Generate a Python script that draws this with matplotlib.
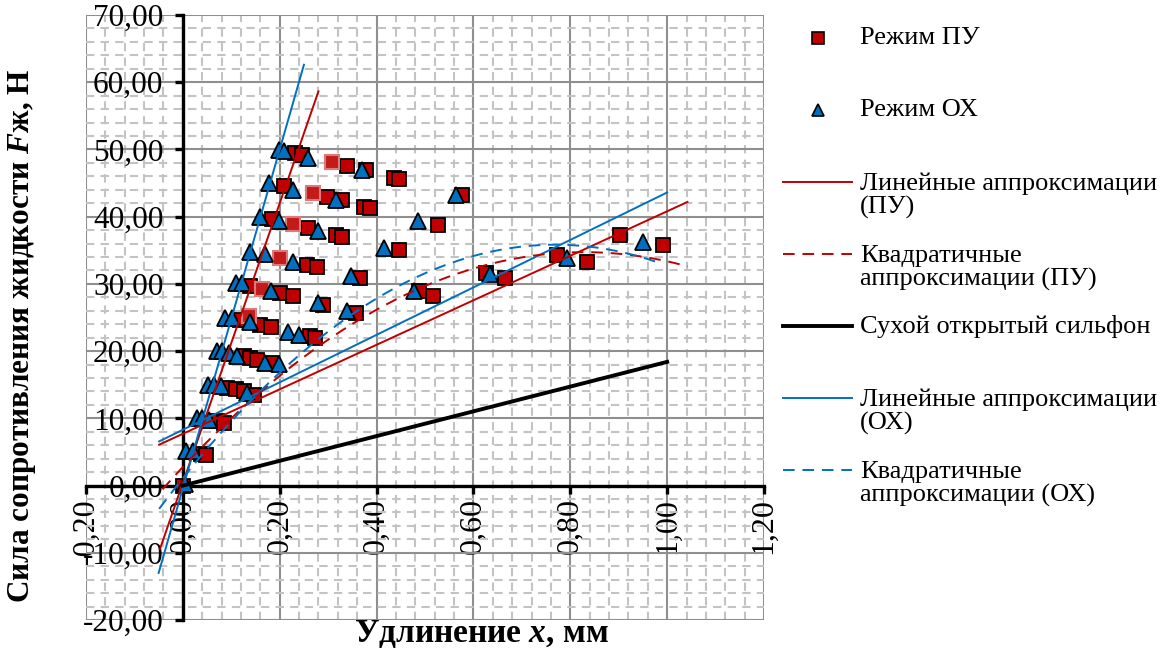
import numpy as np
import matplotlib.pyplot as plt
from matplotlib.ticker import MultipleLocator, FuncFormatter

plt.rcParams['font.family'] = ['Liberation Serif', 'DejaVu Serif']
plt.rcParams['mathtext.fontset'] = 'custom'
plt.rcParams['mathtext.it'] = 'Liberation Serif:italic:bold'
plt.rcParams['mathtext.rm'] = 'Liberation Serif:bold'

W, H = 1167, 653

# Режим ПУ (красные квадраты)
pu_x = [0.0, 0.037, 0.047, 0.071, 0.085, 0.092, 0.109, 0.126, 0.146,
        0.126, 0.139, 0.153, 0.184,
        0.119, 0.160, 0.181, 0.263, 0.273,
        0.139, 0.201, 0.228, 0.290, 0.358, 0.488, 0.516,
        0.256, 0.278, 0.365, 0.625, 0.665,
        0.184, 0.259, 0.317, 0.328, 0.447,
        0.208, 0.297, 0.328, 0.375, 0.386, 0.526,
        0.232, 0.246, 0.338, 0.379, 0.437, 0.447, 0.577,
        0.772, 0.834, 0.902, 0.991]
pu_y = [0.0, 4.7, 4.6, 9.6, 9.3, 14.5, 14.3, 14.0, 13.5,
        19.2, 19.0, 18.7, 18.2,
        24.7, 23.9, 23.6, 22.2, 21.9,
        29.7, 28.6, 28.2, 26.9, 25.7, 28.9, 28.2,
        32.8, 32.5, 30.9, 31.6, 30.9,
        39.6, 38.3, 37.3, 37.0, 35.0,
        44.5, 43.0, 42.5, 41.5, 41.3, 38.8,
        49.4, 49.2, 47.6, 46.9, 45.7, 45.6, 43.2,
        34.3, 33.2, 37.3, 35.8]

# выделенные точки ПУ (без обводки)
pu_hl_x = [0.136, 0.163, 0.201, 0.228, 0.269, 0.308]
pu_hl_y = [25.2, 29.2, 33.9, 38.9, 43.5, 48.1]

# Режим ОХ (синие треугольники)
ox_x = [0.004, 0.006, 0.020, 0.030, 0.040, 0.054,
        0.051, 0.064, 0.078, 0.133,
        0.071, 0.081, 0.095, 0.112, 0.170, 0.198,
        0.088, 0.102, 0.139, 0.218, 0.239,
        0.109, 0.122, 0.181, 0.280, 0.338, 0.478,
        0.139, 0.170, 0.228, 0.348, 0.634,
        0.160, 0.198, 0.280, 0.416,
        0.177, 0.228, 0.317, 0.485,
        0.198, 0.208, 0.259, 0.369, 0.563,
        0.793, 0.950]
ox_y = [0.3, 5.1, 5.1, 10.1, 10.1, 9.8,
        15.0, 14.9, 14.8, 13.8,
        20.0, 20.0, 19.7, 19.3, 18.3, 18.1,
        24.9, 24.9, 24.3, 22.9, 22.4,
        30.1, 30.1, 28.9, 27.1, 25.9, 28.9,
        34.7, 34.4, 33.2, 31.1, 31.4,
        39.9, 39.3, 37.8, 35.3,
        45.0, 44.0, 42.5, 39.4,
        49.9, 49.7, 48.8, 47.0, 43.2,
        33.8, 36.3]

# линейные аппроксимации: y = k*x + b на [x0, x1]
lin_pu_k = [208.0, 33.1]
lin_pu_b = [0.4, 7.7]
lin_pu_x0 = [-0.047, -0.049]
lin_pu_x1 = [0.28, 1.042]

lin_ox_k = [252.0, 35.3]
lin_ox_b = [-0.4, 8.3]
lin_ox_x0 = [-0.05, -0.049]
lin_ox_x1 = [0.25, 1.0]

# квадратичные аппроксимации: y = a + b*x + c*x^2
kv_pu = [2.76, 77.1, -46.5]
kv_pu_rng = [-0.042, 1.042]
kv_ox = [1.1, 90.3, -58.7]
kv_ox_rng = [-0.049, 0.99]

# сухой открытый сильфон
dry_x = [0.0, 1.0]
dry_y = [0.0, 18.4]

RED = '#C00000'
BLUE = '#0070C0'

fig = plt.figure(figsize=(W / 100, H / 100), dpi=100)
ax = fig.add_axes([86 / W, 1 - 620 / H, (764 - 86) / W, (620 - 15) / H])

ax.set_xlim(-0.2, 1.2)
ax.set_ylim(-20, 70)
ax.xaxis.set_major_locator(MultipleLocator(0.2))
ax.xaxis.set_minor_locator(MultipleLocator(0.04))
ax.yaxis.set_major_locator(MultipleLocator(10))
ax.yaxis.set_minor_locator(MultipleLocator(2))


def fmt(v, p):
    if abs(v) < 1e-9:
        v = 0.0
    return f"{v:.2f}".replace('.', ',')


ax.xaxis.set_major_formatter(FuncFormatter(fmt))
ax.yaxis.set_major_formatter(FuncFormatter(fmt))

ax.set_axisbelow(True)
ax.grid(which='major', color='#8F8F8F', lw=1.5)
ax.grid(which='minor', color='#C3C3C3', lw=1.5, linestyle=(0, (4, 3)))

for s in ['top', 'right']:
    ax.spines[s].set_visible(False)
ax.spines['left'].set_position(('data', 0))
ax.spines['bottom'].set_position(('data', 0))
for s in ['left', 'bottom']:
    ax.spines[s].set_linewidth(2.4)
    ax.spines[s].set_color('black')
    ax.spines[s].set_zorder(2.5)

ax.tick_params(which='major', direction='out', length=6, width=2.4)
ax.tick_params(axis='y', pad=8, labelsize=22.5)
ax.tick_params(axis='x', pad=3, labelrotation=90, labelsize=23)
ax.tick_params(which='minor', length=0)

# точки
ax.plot(pu_x, pu_y, 's', ms=10, mfc=RED, mec='black', mew=1.3, ls='none', zorder=3)
ax.plot(pu_hl_x, pu_hl_y, 's', ms=10.5, mfc='#C41A1A', mec='#DA7A7A', mew=1.5,
        ls='none', zorder=3)
ax.plot(ox_x, ox_y, '^', ms=11, mfc=BLUE, mec='black', mew=1.3, ls='none', zorder=3.1)

# аппроксимации
for k, b, x0, x1 in zip(lin_pu_k, lin_pu_b, lin_pu_x0, lin_pu_x1):
    xs = np.array([x0, x1])
    ax.plot(xs, k * xs + b, color=RED, lw=1.4, zorder=4)
for k, b, x0, x1 in zip(lin_ox_k, lin_ox_b, lin_ox_x0, lin_ox_x1):
    xs = np.array([x0, x1])
    ax.plot(xs, k * xs + b, color=BLUE, lw=1.4, zorder=4)

xs = np.linspace(kv_pu_rng[0], kv_pu_rng[1], 200)
ax.plot(xs, kv_pu[0] + kv_pu[1] * xs + kv_pu[2] * xs ** 2, color=RED, lw=1.4,
        ls=(0, (6, 4)), zorder=4)
xs = np.linspace(kv_ox_rng[0], kv_ox_rng[1], 200)
ax.plot(xs, kv_ox[0] + kv_ox[1] * xs + kv_ox[2] * xs ** 2, color=BLUE, lw=1.4,
        ls=(0, (6, 4)), zorder=4)

ax.plot(dry_x, dry_y, color='black', lw=2.8, zorder=4)

# подписи осей
fig.text(22 / W, 1 - 336 / H, 'Сила сопротивления жидкости $F$ж, Н', rotation=90,
         ha='center', va='center', fontsize=22.5, fontweight='bold')
fig.text(481 / W, 1 - 634 / H, 'Удлинение $x$, мм', ha='center', va='center',
         fontsize=24, fontweight='bold')

# легенда
leg_labels = ['Режим ПУ', 'Режим ОХ', 'Линейные аппроксимации\n(ПУ)',
              'Квадратичные\nаппроксимации (ПУ)', 'Сухой открытый сильфон',
              'Линейные аппроксимации\n(ОХ)', 'Квадратичные\nаппроксимации (ОХ)']
lax = fig.add_axes([770 / W, 0, (W - 770) / W, 1])
lax.set_xlim(770, W)
lax.set_ylim(H, 0)
lax.axis('off')
for i, lab in enumerate(leg_labels):
    y = 38 + 72 * i
    if i == 0:
        lax.plot([818], [y], 's', ms=8, mfc=RED, mec='black', mew=1.2)
    elif i == 1:
        lax.plot([818], [y], '^', ms=8.5, mfc=BLUE, mec='black', mew=1.2)
    elif i == 2:
        lax.plot([783, 852], [y, y], color=RED, lw=1.4)
    elif i == 3:
        lax.plot([783, 852], [y, y], color=RED, lw=1.4, ls=(0, (6, 4)))
    elif i == 4:
        lax.plot([783, 852], [y, y], color='black', lw=2.8)
    elif i == 5:
        lax.plot([783, 852], [y, y], color=BLUE, lw=1.4)
    else:
        lax.plot([783, 852], [y, y], color=BLUE, lw=1.4, ls=(0, (6, 4)))
    n = lab.count('\n')
    lax.text(860, y + 14 * n, lab, ha='left', va='center', fontsize=19,
             linespacing=1.05)

fig.savefig('out.png', dpi=100)
